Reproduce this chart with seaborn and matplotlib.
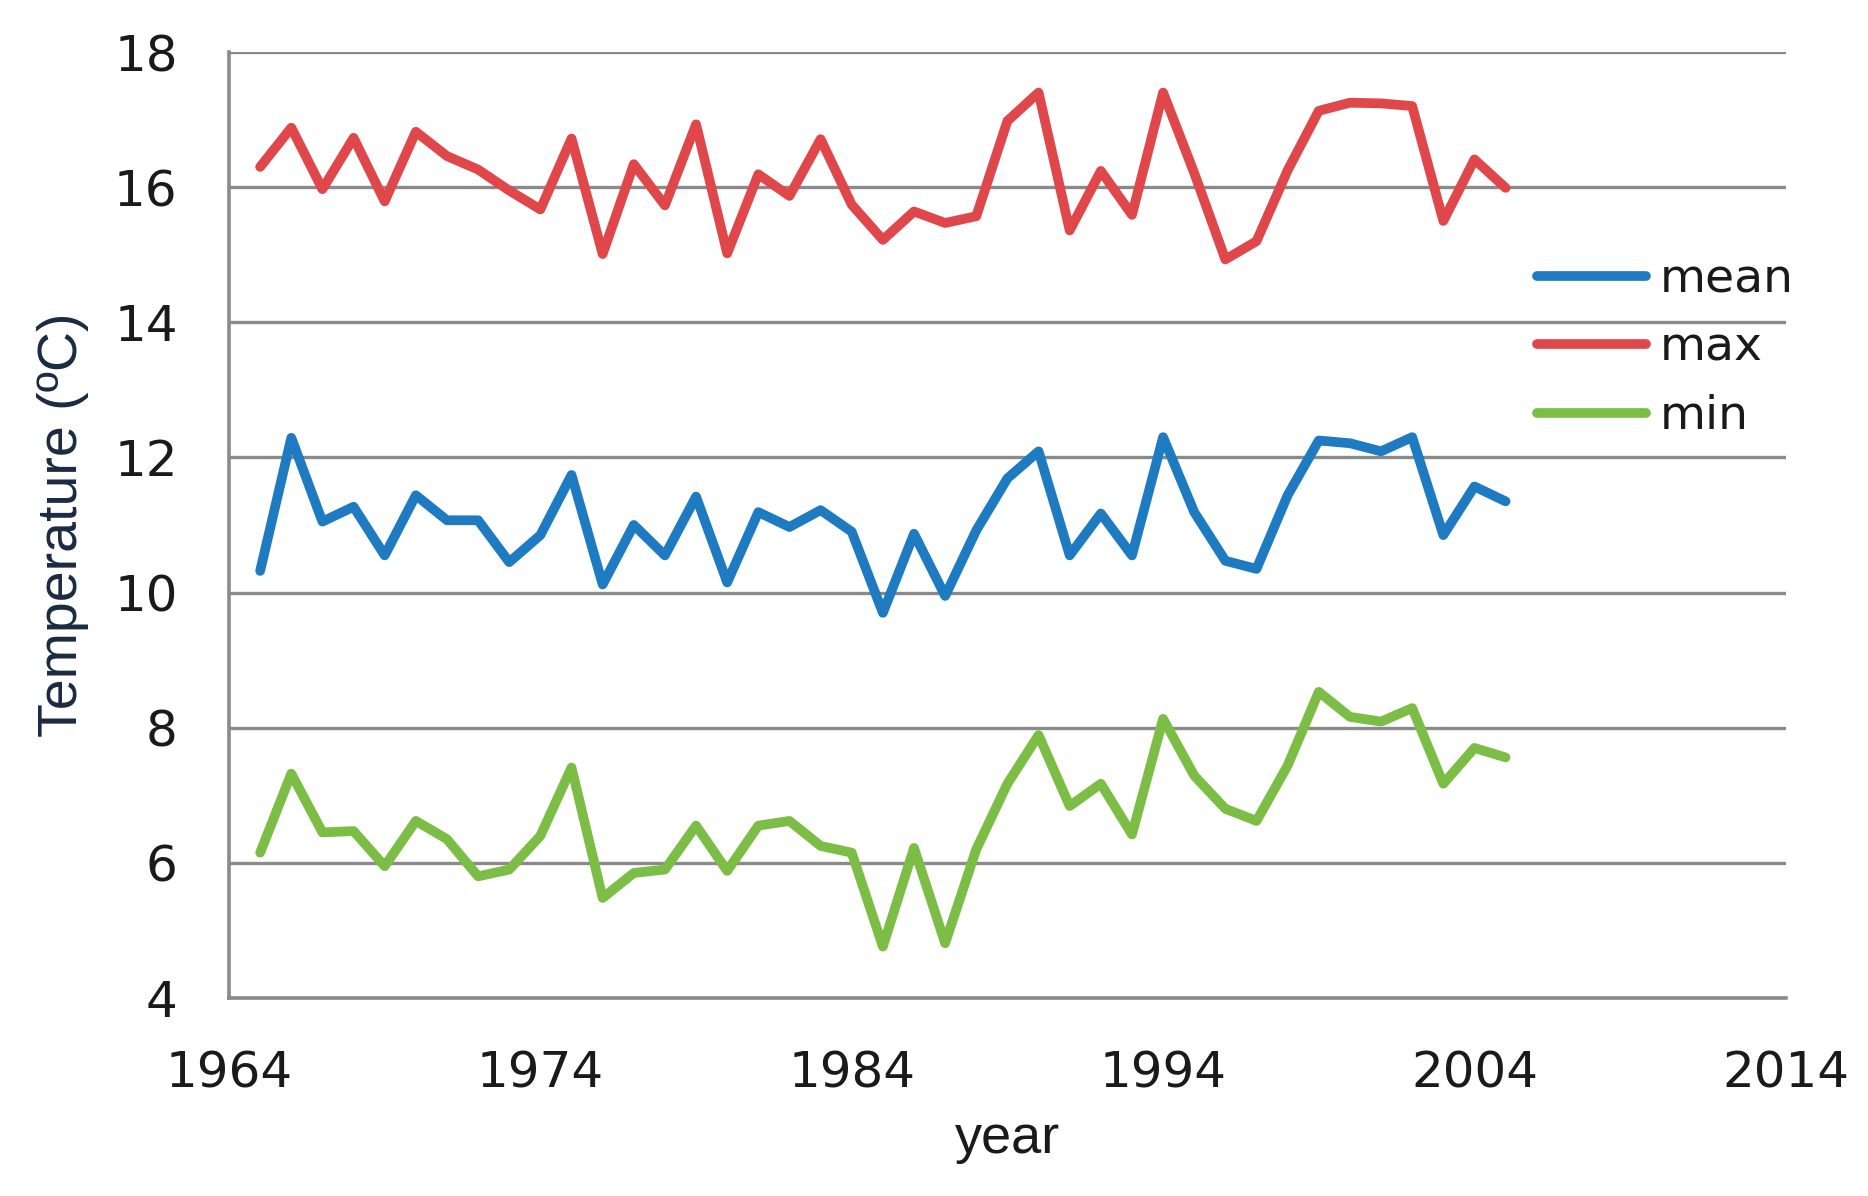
import matplotlib
matplotlib.use("Agg")
import matplotlib.pyplot as plt
import seaborn as sns
import pandas as pd

years = list(range(1965, 2006))

mean_temp = [10.32, 12.29, 11.05, 11.27, 10.55, 11.44, 11.07, 11.07, 10.45, 10.85,
             11.74, 10.12, 11.00, 10.55, 11.42, 10.15, 11.19, 10.97, 11.22, 10.90,
             9.70, 10.87, 9.95, 10.92, 11.69, 12.09, 10.55, 11.17, 10.55, 12.30,
             11.19, 10.47, 10.35, 11.44, 12.25, 12.21, 12.09, 12.30, 10.85, 11.57,
             11.35]

max_temp = [16.30, 16.88, 15.97, 16.73, 15.79, 16.82, 16.46, 16.26, 15.95, 15.67,
            16.72, 15.01, 16.34, 15.73, 16.93, 15.02, 16.19, 15.87, 16.71, 15.74,
            15.22, 15.64, 15.47, 15.57, 16.98, 17.40, 15.36, 16.24, 15.59, 17.40,
            16.21, 14.93, 15.20, 16.25, 17.13, 17.25, 17.24, 17.20, 15.50, 16.41,
            15.99]

min_temp = [6.15, 7.32, 6.45, 6.47, 5.95, 6.62, 6.35, 5.80, 5.90, 6.40,
            7.41, 5.48, 5.85, 5.90, 6.55, 5.88, 6.55, 6.62, 6.25, 6.15,
            4.76, 6.22, 4.81, 6.20, 7.17, 7.89, 6.84, 7.17, 6.42, 8.13,
            7.29, 6.80, 6.62, 7.44, 8.53, 8.16, 8.09, 8.29, 7.17, 7.70,
            7.56]

series_names = ["mean", "max", "min"]
colors = {"mean": "#1f7bc1", "max": "#e0474a", "min": "#7cbd45"}

df = pd.DataFrame({
    "year": years * 3,
    "temp": mean_temp + max_temp + min_temp,
    "series": [s for s in series_names for _ in years],
})

sns.set_style("white")
plt.rcParams["font.family"] = ["DejaVu Sans"]

fig = plt.figure(figsize=(18.68, 11.96), dpi=100)
ax = fig.add_axes([0.1226, 0.1656, 0.8334, 0.7909])

sns.lineplot(data=df, x="year", y="temp", hue="series", hue_order=series_names,
             palette=colors, linewidth=7, ax=ax)

grid_col = "#8a8a8a"
ax.set_xlim(1964, 2014)
ax.set_ylim(4, 18)
ax.set_xticks(range(1964, 2015, 10))
ax.set_yticks(range(4, 19, 2))
ax.yaxis.grid(True, color=grid_col, linewidth=2.4)
ax.xaxis.grid(False)
for side in ["top", "right"]:
    ax.spines[side].set_visible(False)
for side in ["left", "bottom"]:
    ax.spines[side].set_color(grid_col)
    ax.spines[side].set_linewidth(2.6)

ax.tick_params(axis="y", length=15, width=2.4, color=grid_col, pad=22,
               labelsize=36, labelcolor="#1a1a1a")
ax.tick_params(axis="x", length=13, width=1.5, color=grid_col, pad=24,
               labelsize=36, labelcolor="#1a1a1a")

ax.set_xlabel("year", fontsize=39, family="Liberation Sans", color="#1a1a1a", labelpad=12)
ax.set_ylabel("Temperature (ºC)", fontsize=40, family="Liberation Sans", color="#1a2a40", labelpad=18)

leg = ax.legend(loc="upper left", bbox_to_anchor=(0.823, 0.785), bbox_transform=fig.transFigure,
                frameon=False, fontsize=34, handlelength=2.3, handletextpad=0.3,
                labelspacing=0.5, borderpad=0, borderaxespad=0)
for line in leg.get_lines():
    line.set_linewidth(7)
for t in leg.get_texts():
    t.set_color("#1a1a1a")

fig.savefig("out.png", dpi=100)
